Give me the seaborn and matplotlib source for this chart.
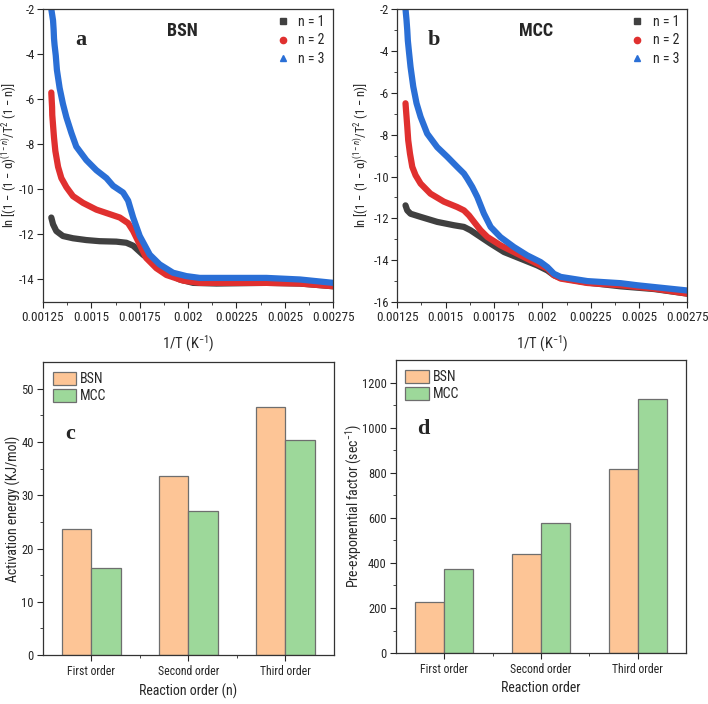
import numpy as np
import pandas as pd
import matplotlib
matplotlib.use("Agg")
import matplotlib.pyplot as plt
import seaborn as sns
from matplotlib.lines import Line2D
from matplotlib.patches import Patch
from matplotlib import font_manager

# ---------------- data ----------------
# Panel a (BSN)
a1_x = [0.001293, 0.001302, 0.001319, 0.001353, 0.001405, 0.001474, 0.001543, 0.001629, 0.001681, 0.001716,
        0.001767, 0.001819, 0.001888, 0.001957, 0.002026, 0.002147, 0.002405, 0.002578, 0.00275]
a1_y = [-11.25, -11.55, -11.85, -12.07, -12.17, -12.25, -12.3, -12.32, -12.37, -12.5,
        -12.9, -13.25, -13.7, -14.0, -14.15, -14.18, -14.15, -14.18, -14.3]
a2_x = [0.001293, 0.001297, 0.001298, 0.001302, 0.001307, 0.001314, 0.001328, 0.001345, 0.001371, 0.001405,
        0.001457, 0.001526, 0.001595, 0.001647, 0.001690, 0.001716, 0.001750, 0.001784, 0.001836, 0.001888,
        0.001974, 0.002060, 0.002233, 0.002405, 0.002578, 0.00275]
a2_y = [-5.7, -6.35, -6.7, -7.15, -7.7, -8.3, -9.0, -9.5, -9.9, -10.3,
        -10.6, -10.9, -11.1, -11.25, -11.5, -11.85, -12.45, -13.05, -13.5, -13.8,
        -14.05, -14.15, -14.15, -14.15, -14.18, -14.3]
a3_x = [0.001293, 0.001302, 0.001305, 0.001307, 0.001310, 0.001316, 0.001322, 0.001336, 0.001353, 0.001371,
        0.001397, 0.001422, 0.001474, 0.001526, 0.001578, 0.001612, 0.001664, 0.001690, 0.001716, 0.001750,
        0.001802, 0.001853, 0.001922, 0.001991, 0.002060, 0.002233, 0.002405, 0.002578, 0.00275]
a3_y = [-2.0, -2.5, -2.9, -3.3, -3.6, -4.05, -4.7, -5.5, -6.2, -6.8,
        -7.5, -8.1, -8.7, -9.15, -9.5, -9.84, -10.14, -10.5, -11.25, -12.07,
        -12.9, -13.33, -13.7, -13.85, -13.93, -13.93, -13.93, -14.0, -14.15]

# Panel b (MCC)
b1_x = [0.001293, 0.001302, 0.001319, 0.001371, 0.001457, 0.001543, 0.001595, 0.001629, 0.001681, 0.001733,
        0.001802, 0.001888, 0.001974, 0.002026, 0.002060, 0.002095, 0.002233, 0.002405, 0.002578, 0.00275]
b1_y = [-11.38, -11.62, -11.78, -11.93, -12.17, -12.33, -12.41, -12.57, -12.89, -13.21,
        -13.61, -13.93, -14.25, -14.49, -14.72, -14.85, -15.07, -15.25, -15.38, -15.6]
b2_x = [0.001293, 0.001297, 0.001302, 0.001307, 0.001316, 0.001328, 0.001345, 0.001371, 0.001422, 0.001491,
        0.001560, 0.001595, 0.001621, 0.001647, 0.001681, 0.001716, 0.001784, 0.001853, 0.001922, 0.001991,
        0.002026, 0.002060, 0.002095, 0.002233, 0.002405, 0.002578, 0.00275]
b2_y = [-6.5, -7.0, -7.6, -8.27, -8.9, -9.54, -9.94, -10.34, -10.82, -11.2,
        -11.46, -11.62, -11.86, -12.17, -12.57, -12.89, -13.29, -13.61, -13.93, -14.25,
        -14.4, -14.72, -14.88, -15.09, -15.2, -15.36, -15.6]
b3_x = [0.001293, 0.001298, 0.001302, 0.001305, 0.001310, 0.001319, 0.001333, 0.001350, 0.001371, 0.001405,
        0.001457, 0.001509, 0.001560, 0.001595, 0.001612, 0.001638, 0.001664, 0.001698, 0.001733, 0.001784,
        0.001853, 0.001922, 0.001991, 0.002026, 0.002060, 0.002095, 0.002233, 0.002405, 0.002491, 0.00275]
b3_y = [-2.0, -2.5, -3.0, -3.5, -3.96, -4.76, -5.7, -6.5, -7.15, -7.95,
        -8.6, -9.06, -9.54, -9.86, -10.1, -10.5, -10.98, -11.77, -12.41, -12.9,
        -13.37, -13.77, -14.09, -14.33, -14.65, -14.8, -15.0, -15.1, -15.2, -15.45]

# Bar panels
orders = ["First order", "Second order", "Third order"]
materials = ["BSN", "MCC"]
energy_bsn = [23.6, 33.7, 46.5]
energy_mcc = [16.4, 27.0, 40.3]
preexp_bsn = [227, 441, 815]
preexp_mcc = [375, 579, 1127]

series_labels = ["n = 1", "n = 2", "n = 3"]
series_colors = ["#404040", "#e0302f", "#2a6fd6"]
series_markers = ["s", "o", "^"]
bar_colors = ["#fdc596", "#9dd89a"]

# ---------------- style ----------------
_names = {f.name for f in font_manager.fontManager.ttflist}
_cands = ["Arial Narrow", "Liberation Sans Narrow", "Roboto Condensed", "Archivo Narrow",
          "PT Sans Narrow", "Pragati Narrow", "Open Sans Condensed"]
NARROW = next((c for c in _cands if c in _names), None)
if NARROW is None:
    NARROW, k = "Liberation Sans", 0.85
else:
    k = 1.0

sns.set_style("ticks")
plt.rcParams["font.family"] = [NARROW, "Liberation Sans", "DejaVu Sans"]
plt.rcParams["mathtext.fontset"] = "custom"
plt.rcParams["mathtext.rm"] = NARROW
plt.rcParams["mathtext.it"] = NARROW + ":italic"
plt.rcParams["axes.edgecolor"] = "#333333"
plt.rcParams["axes.linewidth"] = 0.9

fig = plt.figure(figsize=(7.08, 7.04), dpi=100)
ax_a = fig.add_axes([0.0607, 0.571, 0.41, 0.416])
ax_b = fig.add_axes([0.561, 0.571, 0.41, 0.416])
ax_c = fig.add_axes([0.0607, 0.0696, 0.411, 0.416])
ax_d = fig.add_axes([0.559, 0.0724, 0.41, 0.416])

ylab = "ln [(1 − (1 − α)$^{(1−n)}$/T$^{2}$ (1 − n)]"
SERIF = ["Liberation Serif", "DejaVu Serif"]


def curve_panel(ax, xs, ys, ylim, yticks, title, letter, letter_x, ylab_x):
    for x, y, c in zip(xs, ys, series_colors):
        sns.lineplot(x=x, y=y, ax=ax, color=c, linewidth=4.5, sort=False,
                     solid_capstyle="round", solid_joinstyle="round")
    ax.set_xlim(0.00125, 0.00275)
    ax.set_ylim(*ylim)
    ax.set_xticks([0.00125, 0.0015, 0.00175, 0.002, 0.00225, 0.0025, 0.00275])
    ax.set_xticklabels(["0.00125", "0.0015", "0.00175", "0.002", "0.00225", "0.0025", "0.00275"])
    ax.set_xticks(np.arange(0.001375, 0.00275, 0.00025), minor=True)
    ax.set_yticks(yticks)
    ax.set_yticklabels([f"{v:g}" for v in yticks])
    ax.set_yticks(np.arange(ylim[0] + 1, ylim[1], 2), minor=True)
    ax.tick_params(axis="x", which="major", length=4, direction="out", pad=2.5,
                   labelsize=9.5 * k)
    ax.tick_params(axis="y", which="major", length=4, direction="out", pad=2,
                   labelsize=9 * k)
    ax.tick_params(axis="both", which="minor", length=2.5, direction="out")
    ax.set_xlabel("1/T (K$^{-1}$)", fontsize=10.5 * k, labelpad=7)
    ax.set_ylabel(ylab, fontsize=9 * k)
    ax.yaxis.set_label_coords(ylab_x, 0.5)
    ax.text(0.48, 0.955, title, transform=ax.transAxes, ha="center", va="top",
            fontsize=13 * k, fontweight="bold")
    ax.text(letter_x, 0.93, letter, transform=ax.transAxes, ha="left", va="top",
            fontsize=16, fontweight="bold", family=SERIF)
    handles = [Line2D([], [], linestyle="none", marker=m, color=c, markersize=4.5)
               for m, c in zip(series_markers, series_colors)]
    ax.legend(handles, series_labels, loc="upper right", frameon=False, fontsize=10 * k,
              handlelength=1.0, handletextpad=0.6, borderaxespad=0.2, labelspacing=0.35,
              bbox_to_anchor=(1.0, 1.01))


curve_panel(ax_a, [a1_x, a2_x, a3_x], [a1_y, a2_y, a3_y], (-15, -2),
            [-14, -12, -10, -8, -6, -4, -2], "BSN", "a", 0.11, -0.082)
curve_panel(ax_b, [b1_x, b2_x, b3_x], [b1_y, b2_y, b3_y], (-16, -2),
            [-16, -14, -12, -10, -8, -6, -4, -2], "MCC", "b", 0.105, -0.09)


def bar_panel(ax, v_bsn, v_mcc, ylim, yticks, minor, ylabel, xlabel, letter, ly, ylab_x):
    df = pd.DataFrame({
        "order": orders * 2,
        "material": [materials[0]] * 3 + [materials[1]] * 3,
        "value": list(v_bsn) + list(v_mcc),
    })
    sns.barplot(data=df, x="order", y="value", hue="material", palette=bar_colors,
                width=0.6, gap=0, edgecolor="#6e6e6e", linewidth=0.9, ax=ax,
                saturation=1, legend=False)
    ax.set_xlim(-0.5, 2.5)
    ax.set_ylim(*ylim)
    ax.set_yticks(yticks)
    ax.set_yticks(minor, minor=True)
    ax.set_xticks([0.5, 1.5], minor=True)
    ax.tick_params(axis="y", which="major", length=4, direction="out", pad=2.5,
                   labelsize=9 * k)
    ax.tick_params(axis="x", which="major", length=4, direction="out", pad=3,
                   labelsize=8.5 * k)
    ax.tick_params(axis="both", which="minor", length=2.5, direction="out")
    ax.set_xlabel(xlabel, fontsize=10 * k, labelpad=4)
    ax.set_ylabel(ylabel, fontsize=10 * k)
    ax.yaxis.set_label_coords(ylab_x, 0.5)
    ax.text(0.075, ly, letter, transform=ax.transAxes, ha="left", va="top",
            fontsize=16, fontweight="bold", family=SERIF)
    handles = [Patch(facecolor=c, edgecolor="#6e6e6e", linewidth=0.9) for c in bar_colors]
    ax.legend(handles, materials, loc="upper left", frameon=False, fontsize=10 * k,
              handlelength=1.7, handleheight=1.05, handletextpad=0.25,
              labelspacing=0.2, borderaxespad=0.3)


bar_panel(ax_c, energy_bsn, energy_mcc, (0, 55), [0, 10, 20, 30, 40, 50],
          np.arange(5, 55, 10), "Activation energy (KJ/mol)", "Reaction order (n)", "c", 0.79, -0.075)
bar_panel(ax_d, preexp_bsn, preexp_mcc, (0, 1300), [0, 200, 400, 600, 800, 1000, 1200],
          np.arange(100, 1300, 200), "Pre-exponential factor (sec$^{-1}$)", "Reaction order", "d", 0.80, -0.11)

fig.savefig("out.png", dpi=100)
